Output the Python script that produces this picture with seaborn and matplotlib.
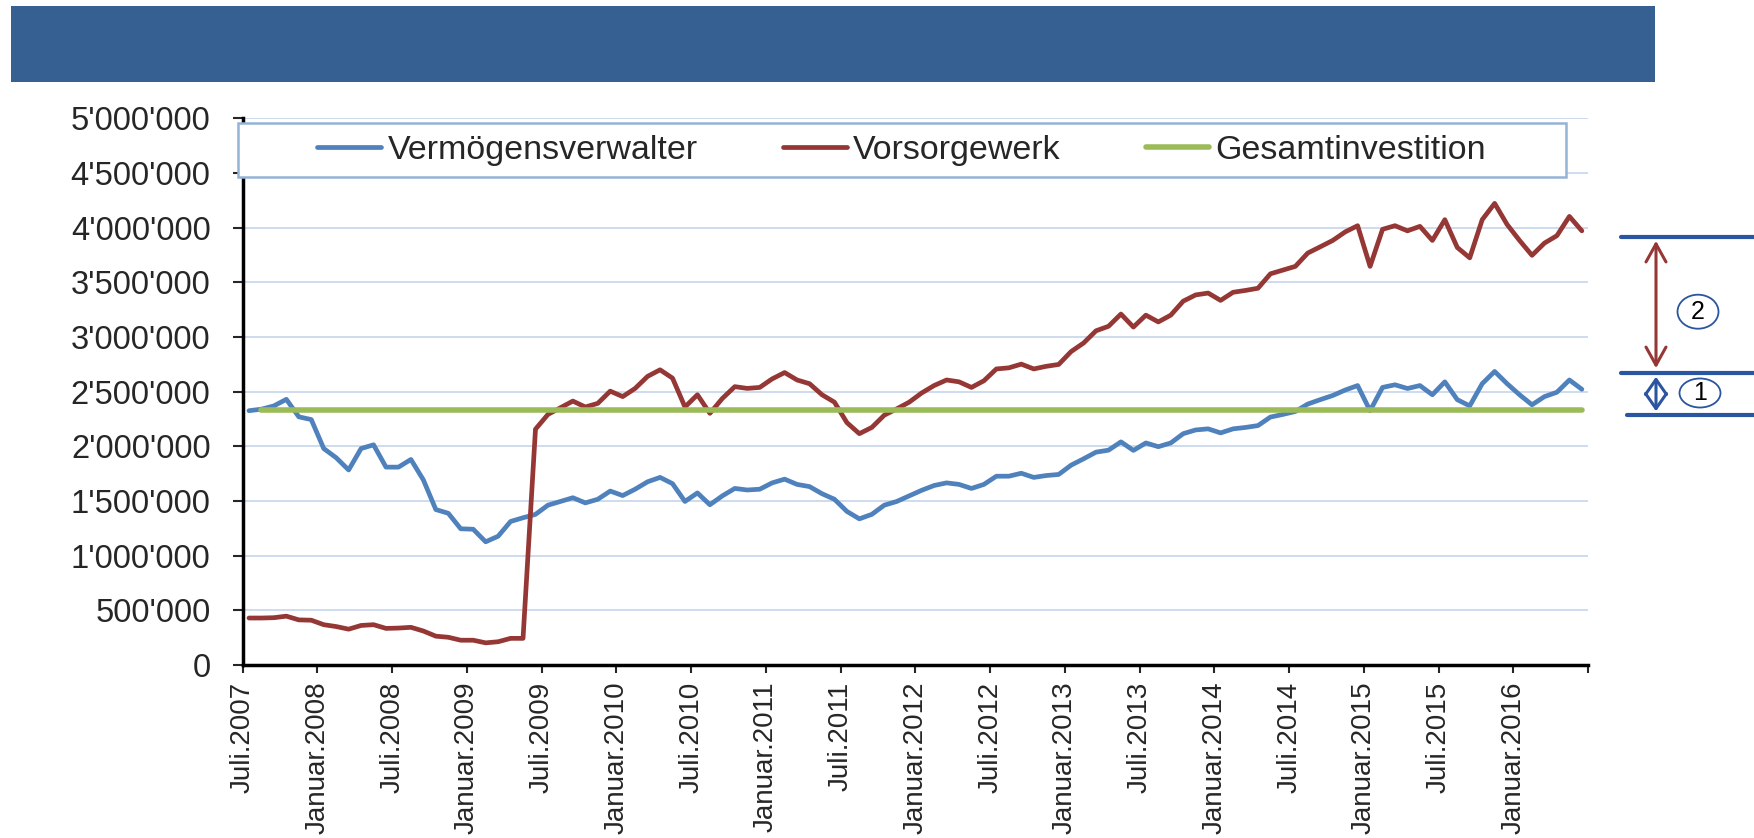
import numpy as np
import pandas as pd
import matplotlib
matplotlib.use("Agg")
import matplotlib.pyplot as plt
import seaborn as sns
from matplotlib.patches import Rectangle, Ellipse, FancyArrowPatch
from matplotlib.ticker import FuncFormatter

# ---------------- data ----------------
tick_labels = ["Juli.2007", "Januar.2008", "Juli.2008", "Januar.2009", "Juli.2009",
               "Januar.2010", "Juli.2010", "Januar.2011", "Juli.2011", "Januar.2012",
               "Juli.2012", "Januar.2013", "Juli.2013", "Januar.2014", "Juli.2014",
               "Januar.2015", "Juli.2015", "Januar.2016", ""]

vermoegensverwalter = [
    2326000, 2340000, 2370000, 2430000, 2270000, 2245000, 1980000, 1896000, 1784000, 1980000,
    2014000, 1810000, 1810000, 1880000, 1693000, 1422000, 1388000, 1246000, 1242000, 1127000,
    1178000, 1313000, 1347000, 1378000, 1462000, 1496000, 1530000, 1483000, 1516000, 1591000,
    1550000, 1608000, 1676000, 1716000, 1659000, 1496000, 1574000, 1466000, 1547000, 1615000,
    1601000, 1608000, 1666000, 1700000, 1652000, 1632000, 1567000, 1516000, 1405000, 1337000,
    1378000, 1462000, 1496000, 1547000, 1598000, 1642000, 1666000, 1652000, 1615000, 1652000,
    1727000, 1727000, 1754000, 1716000, 1733000, 1743000, 1828000, 1886000, 1947000, 1965000,
    2041000, 1963000, 2031000, 1997000, 2031000, 2116000, 2150000, 2160000, 2123000, 2160000,
    2173000, 2190000, 2268000, 2292000, 2319000, 2387000, 2427000, 2465000, 2515000, 2556000,
    2326000, 2539000, 2563000, 2529000, 2556000, 2472000, 2590000, 2427000, 2370000, 2573000,
    2685000, 2573000, 2472000, 2380000, 2455000, 2495000, 2607000, 2522000]

vorsorgewerk = [
    430000, 430000, 433000, 447000, 413000, 410000, 369000, 352000, 328000, 362000,
    369000, 335000, 338000, 345000, 311000, 264000, 254000, 227000, 227000, 203000,
    213000, 244000, 244000, 2157000, 2292000, 2353000, 2414000, 2360000, 2393000, 2505000,
    2455000, 2530000, 2640000, 2700000, 2624000, 2360000, 2472000, 2302000, 2438000, 2546000,
    2530000, 2539000, 2617000, 2675000, 2607000, 2573000, 2472000, 2404000, 2217000, 2116000,
    2173000, 2285000, 2343000, 2404000, 2488000, 2556000, 2607000, 2590000, 2539000, 2600000,
    2708000, 2718000, 2752000, 2708000, 2732000, 2749000, 2867000, 2945000, 3057000, 3098000,
    3210000, 3091000, 3200000, 3138000, 3200000, 3328000, 3385000, 3402000, 3335000, 3409000,
    3426000, 3446000, 3578000, 3612000, 3646000, 3768000, 3825000, 3883000, 3961000, 4018000,
    3646000, 3985000, 4018000, 3971000, 4012000, 3883000, 4073000, 3819000, 3724000, 4073000,
    4222000, 4029000, 3883000, 3747000, 3859000, 3927000, 4103000, 3971000]

gesamtinvestition = [np.nan] + [2330000] * 107

series_names = ["Vermögensverwalter", "Vorsorgewerk", "Gesamtinvestition"]
colors = ["#4F81BD", "#953735", "#9BBB59"]

n = len(vermoegensverwalter)
month_pos = np.arange(n) + 0.5          # category centres (monthly)
tick_pos = np.arange(0, n + 1, 6)       # half-year ticks

df = pd.DataFrame({
    "m": np.concatenate([month_pos] * 3),
    "value": np.concatenate([vermoegensverwalter, vorsorgewerk, gesamtinvestition]),
    "series": np.repeat(series_names, n),
})

# ---------------- style ----------------
sns.set_style("white")
plt.rcParams["font.family"] = ["Liberation Sans", "DejaVu Sans"]

fig = plt.figure(figsize=(17.54, 8.38), dpi=100)
ax = fig.add_axes([0.1384, 0.2064, 0.9054 - 0.1384, 0.8588 - 0.2064])

widths = {"Vermögensverwalter": 3.4, "Vorsorgewerk": 3.4, "Gesamtinvestition": 4.0}
for name, col in zip(series_names, colors):
    sub = df[df["series"] == name]
    sns.lineplot(data=sub, x="m", y="value", color=col, lw=widths[name],
                 ax=ax, label=name, solid_capstyle="round", solid_joinstyle="round", zorder=3)

ax.set_xlim(0, n)
ax.set_ylim(0, 5000000)
ax.set_yticks(np.arange(0, 5000001, 500000))
ax.yaxis.set_major_formatter(FuncFormatter(lambda v, p: f"{int(v):,}".replace(",", "'")))
ax.set_xticks(tick_pos)
ax.set_xticklabels(tick_labels, rotation=90, fontsize=20)
ax.set_xlabel("")
ax.set_ylabel("")
ax.tick_params(axis="y", labelsize=23.5, length=7.2, width=1.5, direction="out", pad=16, left=True)
ax.tick_params(axis="x", length=5.8, width=1.5, direction="out", pad=6, bottom=True)
ax.grid(axis="y", color="#C5D5EA", lw=1.2)
ax.grid(axis="x", visible=False)
for s in ["top", "right"]:
    ax.spines[s].set_visible(False)
for s in ["left", "bottom"]:
    ax.spines[s].set_color("black")
    ax.spines[s].set_linewidth(2.5)
ax.set_axisbelow(True)

# legend box
ax.get_legend().remove()
box = Rectangle((-0.0035, 0.892), 0.9869, 0.9914 - 0.892, transform=ax.transAxes,
                facecolor="white", edgecolor="#95B3D7", lw=1.8, zorder=5, clip_on=False)
ax.add_patch(box)
handles = ax.get_lines()[:3]
leg = ax.legend(handles, series_names, loc="center", bbox_to_anchor=(0.4899, 0.9417),
                ncol=3, frameon=False, fontsize=24.5, handlelength=1.88, handletextpad=0.18,
                columnspacing=2.5, borderaxespad=0)
leg.set_zorder(6)

# title bar
fig.patches.append(Rectangle((11 / 1754, 1 - 81.7 / 838), (1655 - 11) / 1754, 76 / 838,
                             transform=fig.transFigure, facecolor="#366092",
                             edgecolor="none", zorder=0))

# right-hand annotation
W, H = 1754, 838
def fx(px): return px / W
def fy(py): return 1 - py / H
line_col = "#2A55A0"
for (x0, y) in [(1621, 236.7), (1621, 372.7), (1627, 415)]:
    fig.lines.append(plt.Line2D([fx(x0), 1.0], [fy(y), fy(y)], transform=fig.transFigure,
                                color=line_col, lw=3))
fig.patches.append(FancyArrowPatch((fx(1656), fy(238)), (fx(1656), fy(371)),
                                   transform=fig.transFigure,
                                   arrowstyle="<->,head_length=0.72,head_width=0.4",
                                   color="#953735", lw=2.2, mutation_scale=18))
fig.patches.append(FancyArrowPatch((fx(1656), fy(374)), (fx(1656), fy(414)),
                                   transform=fig.transFigure,
                                   arrowstyle="<->,head_length=0.6,head_width=0.42",
                                   color="#2A55A0", lw=2.2, mutation_scale=18))
for (cx, cy, w, h, t) in [(1698, 311.7, 41, 34, "2"), (1700, 393, 41, 29, "1")]:
    fig.patches.append(Ellipse((fx(cx), fy(cy)), w / W, h / H, transform=fig.transFigure,
                               facecolor="white", edgecolor="#2A55A0", lw=1.3))
    fig.text(fx(cx), fy(cy), t, ha="center", va="center", fontsize=18, color="black")

fig.savefig("out.png", dpi=100, facecolor="white")
